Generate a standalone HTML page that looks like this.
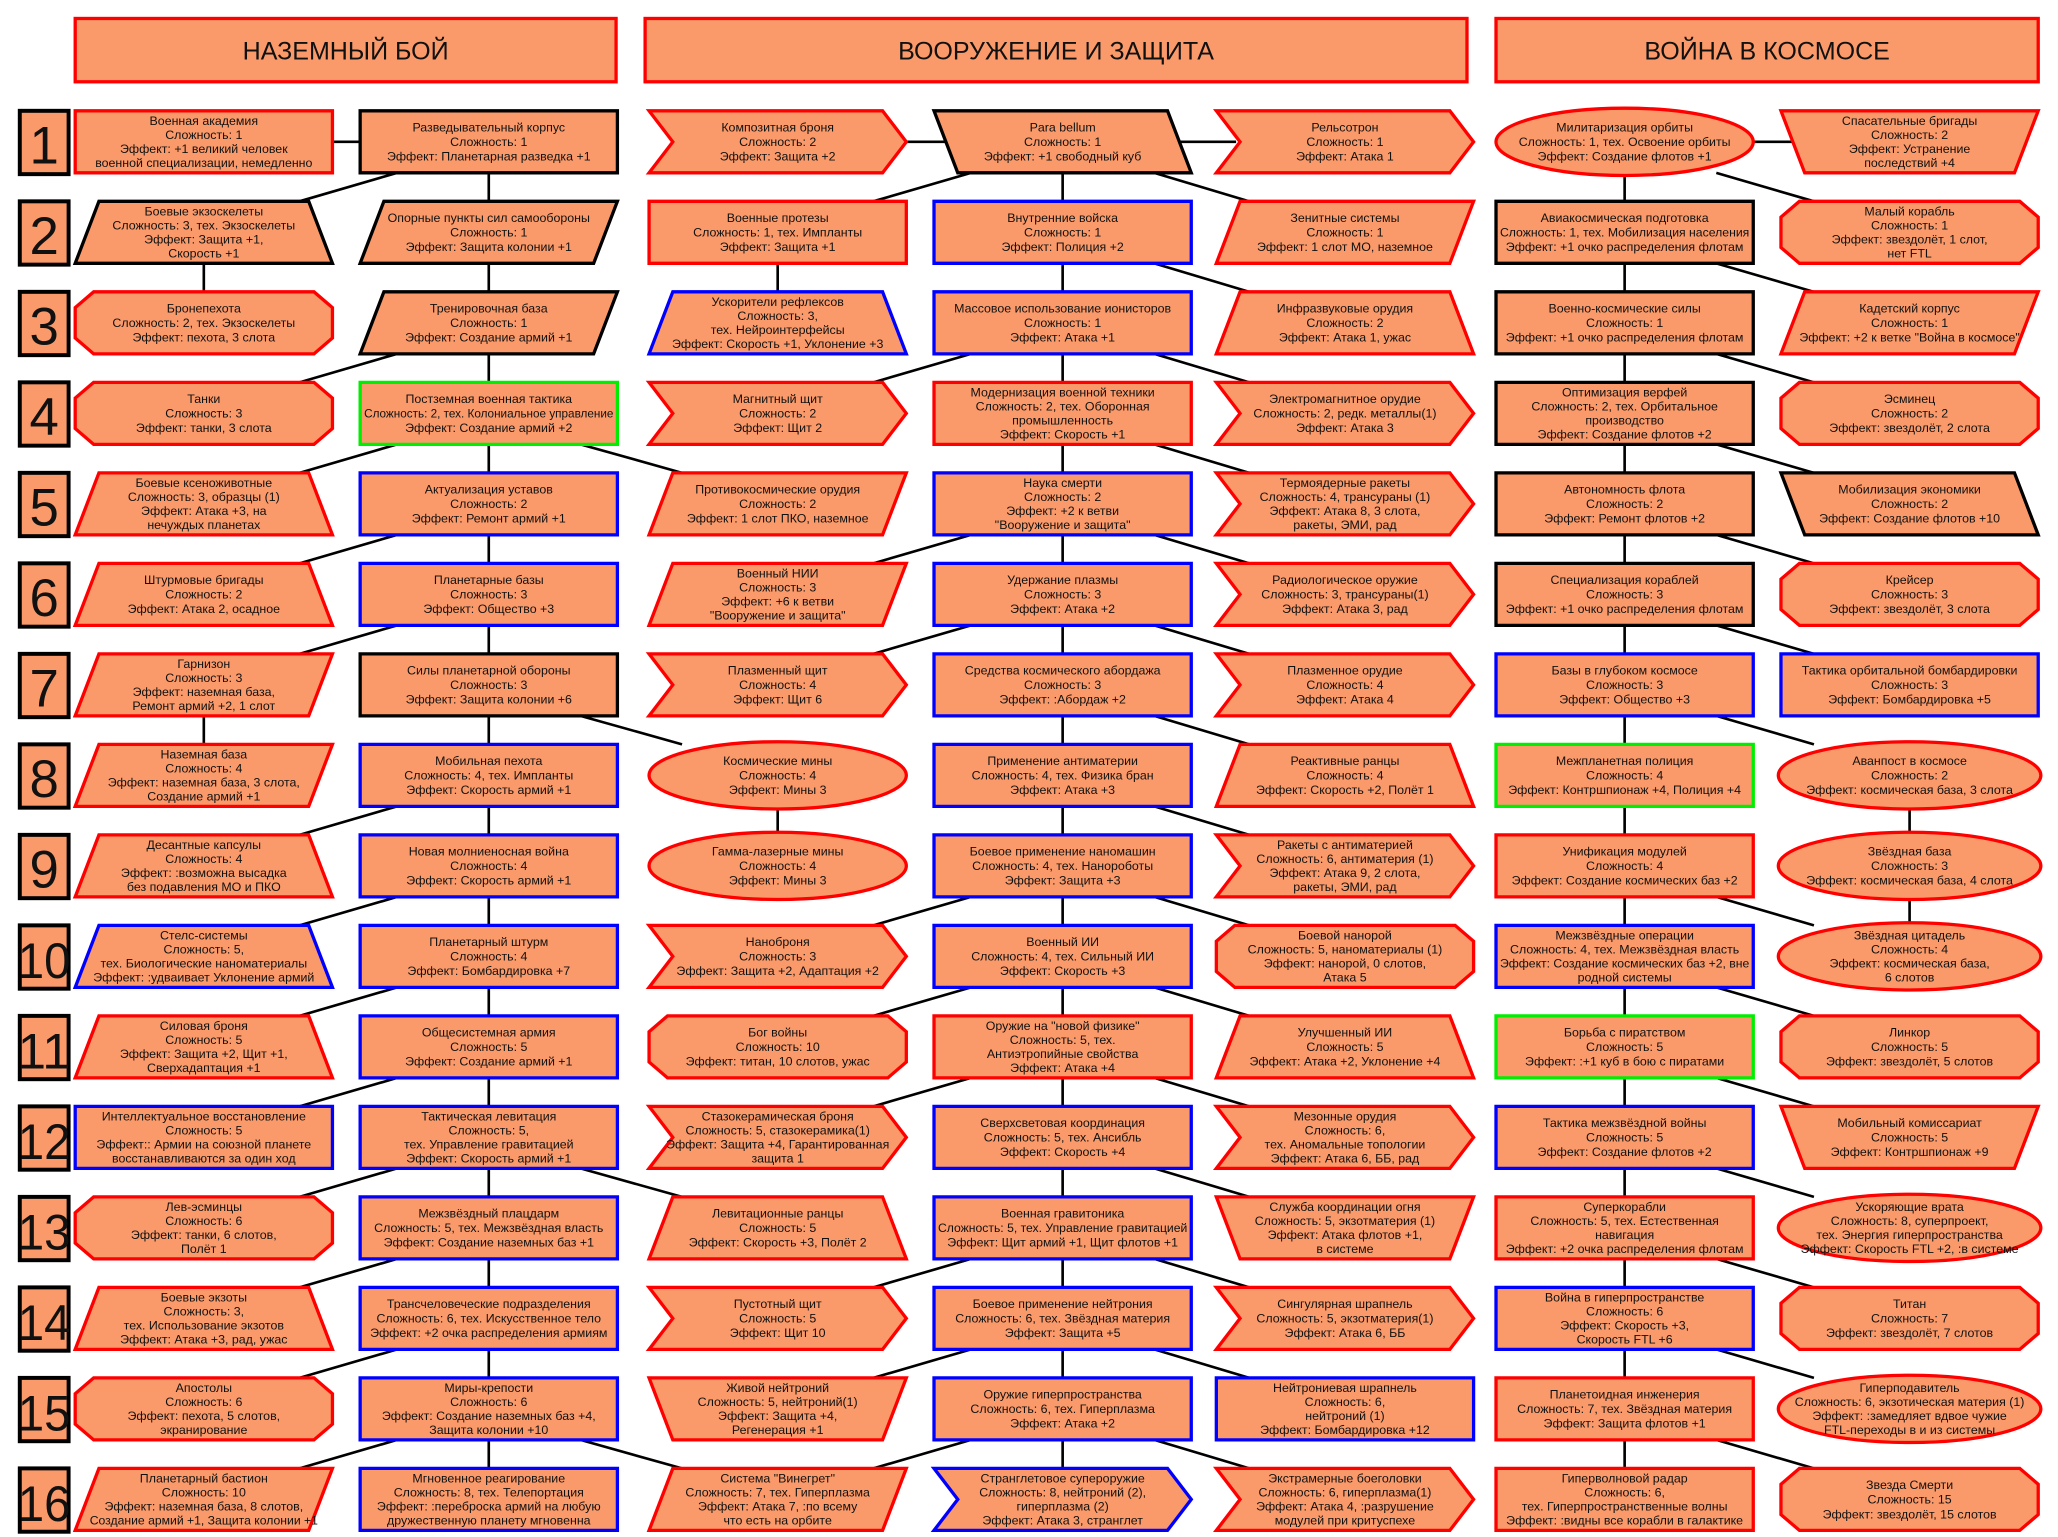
<!DOCTYPE html>
<html><head><meta charset="utf-8">
<style>
html,body{margin:0;padding:0;background:#fff;}
svg{display:block;}
text{font-family:"Liberation Sans","DejaVu Sans",sans-serif;fill:#111;}
</style></head>
<body>
<svg id="s" xmlns="http://www.w3.org/2000/svg" width="2058" height="1537" viewBox="0 0 1560 1165" preserveAspectRatio="none">
<g id="lines" stroke="#000" stroke-width="2" fill="none"></g>
<g id="shapes"></g>
</svg>
<script>
var FILL="#FA9A6A";
var C={r:"#FF0000",k:"#000000",b:"#0000FF",g:"#00EE00"};
var X={A1:57,A2:273,B1:492,B2:708,B3:922,C1:1134,C2:1350};
var W=195,H=47;
function Y(n){return 84+(n-1)*68.6;}
var NS="http://www.w3.org/2000/svg";
var S=document.getElementById("shapes"),L=document.getElementById("lines");
function el(t,a,p){var e=document.createElementNS(NS,t);for(var k in a)e.setAttribute(k,a[k]);(p||S).appendChild(e);return e;}
function line(x1,y1,x2,y2){el("line",{x1:x1,y1:y1,x2:x2,y2:y2},L);}
function pts(a){return a.map(function(p){return p[0].toFixed(1)+","+p[1].toFixed(1)}).join(" ");}
function shape(type,x,y,w,h,col){
 var d=18,a;
 var st={fill:FILL,stroke:col,"stroke-width":2.5};
 if(type=="ell"){st.cx=x+w/2;st.cy=y+h/2;st.rx=w/2;st.ry=h/2+2;el("ellipse",st);return;}
 if(type=="rect")a=[[x,y],[x+w,y],[x+w,y+h],[x,y+h]];
 else if(type=="oct")a=[[x+14,y],[x+w-14,y],[x+w,y+12],[x+w,y+h-12],[x+w-14,y+h],[x+14,y+h],[x,y+h-12],[x,y+12]];
 else if(type=="trap")a=[[x+d,y],[x+w-d,y],[x+w,y+h],[x,y+h]];
 else if(type=="itrap")a=[[x,y],[x+w,y],[x+w-d,y+h],[x+d,y+h]];
 else if(type=="pr")a=[[x+d,y],[x+w,y],[x+w-d,y+h],[x,y+h]];
 else if(type=="pl")a=[[x,y],[x+w-d,y],[x+w,y+h],[x+d,y+h]];
 else if(type=="chev")a=[[x,y],[x+w-d,y],[x+w,y+h/2],[x+w-d,y+h],[x,y+h],[x+d,y+h/2]];
 st.points=pts(a);el("polygon",st);
}
function label(txt,cx,cy,maxw,fs,lh){
 var ls=txt.split("|");var n=ls.length;
 var y0=cy-(n-1)*lh/2+fs*0.35;
 ls.forEach(function(s,i){
  var t=el("text",{x:cx,y:y0+i*lh,"text-anchor":"middle","font-size":fs});
  t.textContent=s;
  var len=t.getComputedTextLength();
  if(len>maxw){t.setAttribute("textLength",maxw);t.setAttribute("lengthAdjust","spacingAndGlyphs");}
 });
}
var N=[
["A1",1,"rect","r","Военная академия|Сложность: 1|Эффект: +1 великий человек|военной специализации, немедленно"],
["A1",2,"trap","k","Боевые экзоскелеты|Сложность: 3, тех. Экзоскелеты|Эффект: Защита +1,|Скорость +1"],
["A1",3,"oct","r","Бронепехота|Сложность: 2, тех. Экзоскелеты|Эффект: пехота, 3 слота"],
["A1",4,"oct","r","Танки|Сложность: 3|Эффект: танки, 3 слота"],
["A1",5,"trap","r","Боевые ксеноживотные|Сложность: 3, образцы (1)|Эффект: Атака +3, на|нечуждых планетах"],
["A1",6,"trap","r","Штурмовые бригады|Сложность: 2|Эффект: Атака 2, осадное"],
["A1",7,"pr","r","Гарнизон|Сложность: 3|Эффект: наземная база,|Ремонт армий +2, 1 слот"],
["A1",8,"pr","r","Наземная база|Сложность: 4|Эффект: наземная база, 3 слота,|Создание армий +1"],
["A1",9,"trap","r","Десантные капсулы|Сложность: 4|Эффект: :возможна высадка|без подавления МО и ПКО"],
["A1",10,"trap","b","Стелс-системы|Сложность: 5,|тех. Биологические наноматериалы|Эффект: :удваивает Уклонение армий"],
["A1",11,"trap","r","Силовая броня|Сложность: 5|Эффект: Защита +2, Щит +1,|Сверхадаптация +1"],
["A1",12,"rect","b","Интеллектуальное восстановление|Сложность: 5|Эффект:: Армии на союзной планете|восстанавливаются за один ход"],
["A1",13,"oct","r","Лев-эсминцы|Сложность: 6|Эффект: танки, 6 слотов,|Полёт 1"],
["A1",14,"trap","r","Боевые экзоты|Сложность: 3,|тех. Использование экзотов|Эффект: Атака +3, рад, ужас"],
["A1",15,"oct","r","Апостолы|Сложность: 6|Эффект: пехота, 5 слотов,|экранирование"],
["A1",16,"pr","r","Планетарный бастион|Сложность: 10|Эффект: наземная база, 8 слотов,|Создание армий +1, Защита колонии +1"],
["A2",1,"rect","k","Разведывательный корпус|Сложность: 1|Эффект: Планетарная разведка +1"],
["A2",2,"pr","k","Опорные пункты сил самообороны|Сложность: 1|Эффект: Защита колонии +1"],
["A2",3,"pr","k","Тренировочная база|Сложность: 1|Эффект: Создание армий +1"],
["A2",4,"rect","g","Постземная военная тактика|Сложность: 2, тех. Колониальное управление|Эффект: Создание армий +2"],
["A2",5,"rect","b","Актуализация уставов|Сложность: 2|Эффект: Ремонт армий +1"],
["A2",6,"rect","b","Планетарные базы|Сложность: 3|Эффект: Общество +3"],
["A2",7,"rect","k","Силы планетарной обороны|Сложность: 3|Эффект: Защита колонии +6"],
["A2",8,"rect","b","Мобильная пехота|Сложность: 4, тех. Импланты|Эффект: Скорость армий +1"],
["A2",9,"rect","b","Новая молниеносная война|Сложность: 4|Эффект: Скорость армий +1"],
["A2",10,"rect","b","Планетарный штурм|Сложность: 4|Эффект: Бомбардировка +7"],
["A2",11,"rect","b","Общесистемная армия|Сложность: 5|Эффект: Создание армий +1"],
["A2",12,"rect","b","Тактическая левитация|Сложность: 5,|тех. Управление гравитацией|Эффект: Скорость армий +1"],
["A2",13,"rect","b","Межзвёздный плацдарм|Сложность: 5, тех. Межзвёздная власть|Эффект: Создание наземных баз +1"],
["A2",14,"rect","b","Трансчеловеческие подразделения|Сложность: 6, тех. Искусственное тело|Эффект: +2 очка распределения армиям"],
["A2",15,"rect","b","Миры-крепости|Сложность: 6|Эффект: Создание наземных баз +4,|Защита колонии +10"],
["A2",16,"rect","b","Мгновенное реагирование|Сложность: 8, тех. Телепортация|Эффект: :переброска армий на любую|дружественную планету мгновенна"],
["B1",1,"chev","r","Композитная броня|Сложность: 2|Эффект: Защита +2"],
["B1",2,"rect","r","Военные протезы|Сложность: 1, тех. Импланты|Эффект: Защита +1"],
["B1",3,"trap","b","Ускорители рефлексов|Сложность: 3,|тех. Нейроинтерфейсы|Эффект: Скорость +1, Уклонение +3"],
["B1",4,"chev","r","Магнитный щит|Сложность: 2|Эффект: Щит 2"],
["B1",5,"pr","r","Противокосмические орудия|Сложность: 2|Эффект: 1 слот ПКО, наземное"],
["B1",6,"pr","r","Военный НИИ|Сложность: 3|Эффект: +6 к ветви|\"Вооружение и защита\""],
["B1",7,"chev","r","Плазменный щит|Сложность: 4|Эффект: Щит 6"],
["B1",8,"ell","r","Космические мины|Сложность: 4|Эффект: Мины 3"],
["B1",9,"ell","r","Гамма-лазерные мины|Сложность: 4|Эффект: Мины 3"],
["B1",10,"chev","r","Наноброня|Сложность: 3|Эффект: Защита +2, Адаптация +2"],
["B1",11,"oct","r","Бог войны|Сложность: 10|Эффект: титан, 10 слотов, ужас"],
["B1",12,"chev","r","Стазокерамическая броня|Сложность: 5, стазокерамика(1)|Эффект: Защита +4, Гарантированная|защита 1"],
["B1",13,"trap","r","Левитационные ранцы|Сложность: 5|Эффект: Скорость +3, Полёт 2"],
["B1",14,"chev","r","Пустотный щит|Сложность: 5|Эффект: Щит 10"],
["B1",15,"itrap","r","Живой нейтроний|Сложность: 5, нейтроний(1)|Эффект: Защита +4,|Регенерация +1"],
["B1",16,"pr","r","Система \"Винегрет\"|Сложность: 7, тех. Гиперплазма|Эффект: Атака 7, :по всему|что есть на орбите"],
["B2",1,"pl","k","Para bellum|Сложность: 1|Эффект: +1 свободный куб"],
["B2",2,"rect","b","Внутренние войска|Сложность: 1|Эффект: Полиция +2"],
["B2",3,"rect","b","Массовое использование ионисторов|Сложность: 1|Эффект: Атака +1"],
["B2",4,"rect","r","Модернизация военной техники|Сложность: 2, тех. Оборонная|промышленность|Эффект: Скорость +1"],
["B2",5,"rect","b","Наука смерти|Сложность: 2|Эффект: +2 к ветви|\"Вооружение и защита\""],
["B2",6,"rect","b","Удержание плазмы|Сложность: 3|Эффект: Атака +2"],
["B2",7,"rect","b","Средства космического абордажа|Сложность: 3|Эффект: :Абордаж +2"],
["B2",8,"rect","b","Применение антиматерии|Сложность: 4, тех. Физика бран|Эффект: Атака +3"],
["B2",9,"rect","b","Боевое применение наномашин|Сложность: 4, тех. Нанороботы|Эффект: Защита +3"],
["B2",10,"rect","b","Военный ИИ|Сложность: 4, тех. Сильный ИИ|Эффект: Скорость +3"],
["B2",11,"rect","r","Оружие на \"новой физике\"|Сложность: 5, тех.|Антиэтропийные свойства|Эффект: Атака +4"],
["B2",12,"rect","b","Сверхсветовая координация|Сложность: 5, тех. Ансибль|Эффект: Скорость +4"],
["B2",13,"rect","b","Военная гравитоника|Сложность: 5, тех. Управление гравитацией|Эффект: Щит армий +1, Щит флотов +1"],
["B2",14,"rect","b","Боевое применение нейтрония|Сложность: 6, тех. Звёздная материя|Эффект: Защита +5"],
["B2",15,"rect","b","Оружие гиперпространства|Сложность: 6, тех. Гиперплазма|Эффект: Атака +2"],
["B2",16,"chev","b","Странглетовое супероружие|Сложность: 8, нейтроний (2),|гиперплазма (2)|Эффект: Атака 3, странглет"],
["B3",1,"chev","r","Рельсотрон|Сложность: 1|Эффект: Атака 1"],
["B3",2,"pr","r","Зенитные системы|Сложность: 1|Эффект: 1 слот МО, наземное"],
["B3",3,"trap","r","Инфразвуковые орудия|Сложность: 2|Эффект: Атака 1, ужас"],
["B3",4,"chev","r","Электромагнитное орудие|Сложность: 2, редк. металлы(1)|Эффект: Атака 3"],
["B3",5,"chev","r","Термоядерные ракеты|Сложность: 4, трансураны (1)|Эффект: Атака 8, 3 слота,|ракеты, ЭМИ, рад"],
["B3",6,"chev","r","Радиологическое оружие|Сложность: 3, трансураны(1)|Эффект: Атака 3, рад"],
["B3",7,"chev","r","Плазменное орудие|Сложность: 4|Эффект: Атака 4"],
["B3",8,"trap","r","Реактивные ранцы|Сложность: 4|Эффект: Скорость +2, Полёт 1"],
["B3",9,"chev","r","Ракеты с антиматерией|Сложность: 6, антиматерия (1)|Эффект: Атака 9, 2 слота,|ракеты, ЭМИ, рад"],
["B3",10,"oct","r","Боевой нанорой|Сложность: 5, наноматериалы (1)|Эффект: нанорой, 0 слотов,|Атака 5"],
["B3",11,"trap","r","Улучшенный ИИ|Сложность: 5|Эффект: Атака +2, Уклонение +4"],
["B3",12,"chev","r","Мезонные орудия|Сложность: 6,|тех. Аномальные топологии|Эффект: Атака 6, ББ, рад"],
["B3",13,"itrap","r","Служба координации огня|Сложность: 5, экзотматерия (1)|Эффект: Атака флотов +1,|в системе"],
["B3",14,"chev","r","Сингулярная шрапнель|Сложность: 5, экзотматерия(1)|Эффект: Атака 6, ББ"],
["B3",15,"rect","b","Нейтрониевая шрапнель|Сложность: 6,|нейтроний (1)|Эффект: Бомбардировка +12"],
["B3",16,"chev","r","Экстрамерные боеголовки|Сложность: 6, гиперплазма(1)|Эффект: Атака 4, :разрушение|модулей при критуспехе"],
["C1",1,"ell","r","Милитаризация орбиты|Сложность: 1, тех. Освоение орбиты|Эффект: Создание флотов +1"],
["C1",2,"rect","k","Авиакосмическая подготовка|Сложность: 1, тех. Мобилизация населения|Эффект: +1 очко распределения флотам"],
["C1",3,"rect","k","Военно-космические силы|Сложность: 1|Эффект: +1 очко распределения флотам"],
["C1",4,"rect","k","Оптимизация верфей|Сложность: 2, тех. Орбитальное|производство|Эффект: Создание флотов +2"],
["C1",5,"rect","k","Автономность флота|Сложность: 2|Эффект: Ремонт флотов +2"],
["C1",6,"rect","k","Специализация кораблей|Сложность: 3|Эффект: +1 очко распределения флотам"],
["C1",7,"rect","b","Базы в глубоком космосе|Сложность: 3|Эффект: Общество +3"],
["C1",8,"rect","g","Межпланетная полиция|Сложность: 4|Эффект: Контршпионаж +4, Полиция +4"],
["C1",9,"rect","r","Унификация модулей|Сложность: 4|Эффект: Создание космических баз +2"],
["C1",10,"rect","b","Межзвёздные операции|Сложность: 4, тех. Межзвёздная власть|Эффект: Создание космических баз +2, вне|родной системы"],
["C1",11,"rect","g","Борьба с пиратством|Сложность: 5|Эффект: :+1 куб в бою с пиратами"],
["C1",12,"rect","b","Тактика межзвёздной войны|Сложность: 5|Эффект: Создание флотов +2"],
["C1",13,"rect","r","Суперкорабли|Сложность: 5, тех. Естественная|навигация|Эффект: +2 очка распределения флотам"],
["C1",14,"rect","b","Война в гиперпространстве|Сложность: 6|Эффект: Скорость +3,|Скорость FTL +6"],
["C1",15,"rect","r","Планетоидная инженерия|Сложность: 7, тех. Звёздная материя|Эффект: Защита флотов +1"],
["C1",16,"rect","r","Гиперволновой радар|Сложность: 6,|тех. Гиперпространственные волны|Эффект: :видны все корабли в галактике"],
["C2",1,"itrap","r","Спасательные бригады|Сложность: 2|Эффект: Устранение|последствий +4"],
["C2",2,"oct","r","Малый корабль|Сложность: 1|Эффект: звездолёт, 1 слот,|нет FTL"],
["C2",3,"pr","r","Кадетский корпус|Сложность: 1|Эффект: +2 к ветке \"Война в космосе\""],
["C2",4,"oct","r","Эсминец|Сложность: 2|Эффект: звездолёт, 2 слота"],
["C2",5,"pl","k","Мобилизация экономики|Сложность: 2|Эффект: Создание флотов +10"],
["C2",6,"oct","r","Крейсер|Сложность: 3|Эффект: звездолёт, 3 слота"],
["C2",7,"rect","b","Тактика орбитальной бомбардировки|Сложность: 3|Эффект: Бомбардировка +5"],
["C2",8,"ell","r","Аванпост в космосе|Сложность: 2|Эффект: космическая база, 3 слота"],
["C2",9,"ell","r","Звёздная база|Сложность: 3|Эффект: космическая база, 4 слота"],
["C2",10,"ell","r","Звёздная цитадель|Сложность: 4|Эффект: космическая база,|6 слотов"],
["C2",11,"oct","r","Линкор|Сложность: 5|Эффект: звездолёт, 5 слотов"],
["C2",12,"itrap","r","Мобильный комиссариат|Сложность: 5|Эффект: Контршпионаж +9"],
["C2",13,"ell","r","Ускоряющие врата|Сложность: 8, суперпроект,|тех. Энергия гиперпространства|Эффект: Скорость FTL +2, :в системе"],
["C2",14,"oct","r","Титан|Сложность: 7|Эффект: звездолёт, 7 слотов"],
["C2",15,"ell","r","Гиперподавитель|Сложность: 6, экзотическая материя (1)|Эффект: :замедляет вдвое чужие|FTL-переходы в и из системы"],
["C2",16,"oct","r","Звезда Смерти|Сложность: 15|Эффект: звездолёт, 15 слотов"]
];
// connectors
var mid=function(n){return Y(n)+H/2;}
var bot=function(n){return Y(n)+H;}
// row-1 horizontals
line(X.A1+W,mid(1),X.A2,mid(1));
line(X.B1+W-10,mid(1),X.B2+20,mid(1));
line(X.B2+W-10,mid(1),X.B3+15,mid(1));
line(X.C1+W-10,mid(1),X.C2+20,mid(1));
// verticals in main columns
for(var n=1;n<16;n++){
 line(X.A2+W/2,bot(n),X.A2+W/2,Y(n+1));
 line(X.B2+W/2,bot(n),X.B2+W/2,Y(n+1));
 line(X.C1+W/2,bot(n),X.C1+W/2,Y(n+1));
}
function vert(col,n){line(X[col]+W/2,bot(n),X[col]+W/2,Y(n+1));}
vert("A1",2);vert("A1",7);vert("B1",2);vert("B1",8);vert("C2",8);vert("C2",9);
function dl(main,side,n){line(X[main]+28,bot(n),X[side]+W-25,Y(n+1));}
function dr(main,side,n){line(X[main]+W-28,bot(n),X[side]+25,Y(n+1));}
[1,3,4,5,6,8,9,10,11,12,13,14,15].forEach(function(n){dl("A2","A1",n);});
[4,7,12,15].forEach(function(n){dr("A2","B1",n);});
[1,3,5,6,9,10,11,13,14,15].forEach(function(n){dl("B2","B1",n);});
for(var n=1;n<16;n++)dr("B2","B3",n);
[1,2,3,4,5,6,7,9,10,11,12,13,14,15].forEach(function(n){dr("C1","C2",n);});
// headers
function header(x1,x2,t){
 el("rect",{x:x1,y:14,width:x2-x1,height:48,fill:FILL,stroke:"#FF0000","stroke-width":2.5});
 var e=el("text",{x:(x1+x2)/2,y:45,"text-anchor":"middle","font-size":19});e.textContent=t;
}
header(57,467,"НАЗЕМНЫЙ БОЙ");
header(489,1112,"ВООРУЖЕНИЕ И ЗАЩИТА");
header(1134,1545,"ВОЙНА В КОСМОСЕ");
// row numbers
for(var n=1;n<=16;n++){
 var y=Y(n);
 el("rect",{x:15,y:y,width:37,height:48,fill:FILL,stroke:"#000","stroke-width":3});
 var t=el("text",{x:33.5,y:y+40,"text-anchor":"middle","font-size":n>=10?38:40});
 t.textContent=String(n);
 if(n>=10){t.setAttribute("textLength",40);t.setAttribute("lengthAdjust","spacingAndGlyphs");}
}
// nodes
N.forEach(function(d){
 var x=X[d[0]],y=Y(d[1]);
 var w=W,h=H;
 if(d[2]=="ell" && d[0]=="C2"){x-=2;w=W+4;}
 shape(d[2],x,y,w,h,C[d[3]]);
 var lines=d[4].split("|").length;
 var lh=lines>=4?10.6:11;
 var mw=(d[2]=="rect"||d[2]=="ell")?w-6:w-22;
 if(d[2]=="ell")mw=w-12;
 label(d[4],x+w/2,y+h/2,mw,9.4,lh);
});
</script>
</body></html>
